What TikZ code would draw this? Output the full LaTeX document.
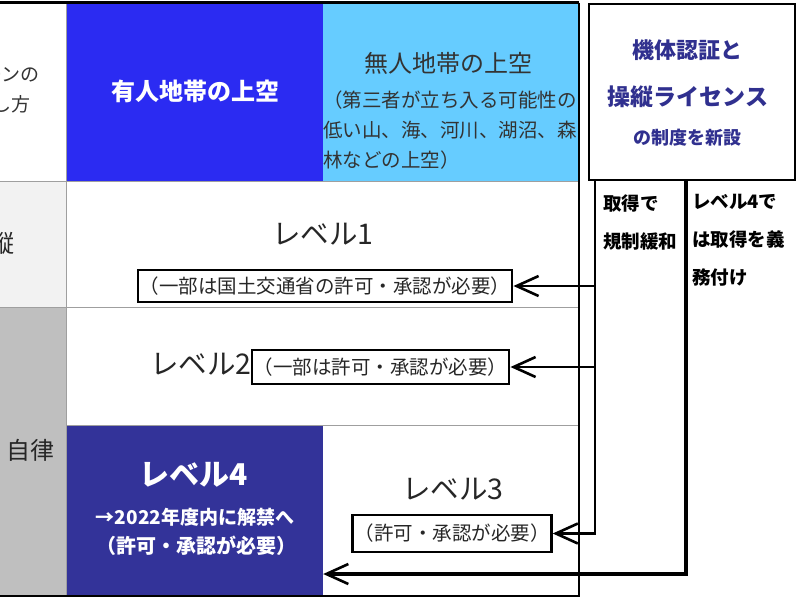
\documentclass[tikz,border=0pt]{standalone}
\usepackage{fontspec}
\setmainfont{Noto Sans CJK JP}
\usetikzlibrary{arrows.meta}
\definecolor{manned}{HTML}{2B2BF2}
\definecolor{unmanned}{HTML}{66CCFF}
\definecolor{navy}{HTML}{333399}
\definecolor{certtext}{HTML}{30308F}
\definecolor{darktext}{HTML}{333333}
\definecolor{lightcell}{HTML}{F2F2F2}
\definecolor{graycell}{HTML}{BFBFBF}
\begin{document}
\begin{tikzpicture}[x=1pt,y=-1pt,
  txt/.style={inner sep=0pt},
  gridline/.style={draw=gray!75, line width=1pt},
  border/.style={draw=black, line width=2.4pt},
  notebox/.style={draw=black, line width=2.4pt, inner xsep=2pt, inner ysep=0pt,
    text=black!85, font=\fontsize{19.5}{22}\selectfont},
  leveltxt/.style={txt, text=black!85, font=\fontsize{28.5}{30}\selectfont},
  sidetxt/.style={txt, anchor=west, align=left, text=black,
    font=\bfseries\fontsize{18.5}{38}\selectfont},
  conn/.style={draw=black, line width=2.2pt,
    -{Straight Barb[length=22pt,width=20pt,line width=2.6pt]}},
  connthick/.style={conn, line width=3.2pt}
]
\useasboundingbox (0,0) rectangle (800,600);
\clip (0,0) rectangle (800,600);
\fill[white] (0,0) rectangle (800,600);

% table cells
\fill[lightcell] (0,181) rectangle (66,307);
\fill[graycell] (0,307) rectangle (66,596);
\fill[manned] (66,3) rectangle (323,181);
\fill[unmanned] (323,3) rectangle (579,181);
\node[fill=navy, inner sep=0pt, minimum width=257pt, minimum height=171pt] (l4) at (194.5,510.5) {};

% grid lines
\draw[gridline] (0,181) -- (579,181);
\draw[gridline] (0,307) -- (579,307);
\draw[gridline] (66,425) -- (579,425);
\draw[gridline] (66,3) -- (66,596);

% outer border
\draw[border, line width=3pt] (0,2.5) -- (579,2.5);
\draw[border] (579,2.5) -- (579,596) -- (0,596);

% header texts
\node[txt, align=center, text=black!80, font=\fontsize{19}{30}\selectfont] (howfly) at (-7.5,90) {ドローンの\\飛ばし方};
\node[txt, text=white, font=\bfseries\fontsize{24}{28}\selectfont] (mannedT) at (195,91) {有人地帯の上空};
\node[txt, text=darktext, font=\fontsize{24}{28}\selectfont] (unmannedT) at (448,63) {無人地帯の上空};
\node[txt, anchor=west, align=left, text=darktext, font=\fontsize{19.5}{30}\selectfont] (unmannedD) at (323,130) {（第三者が立ち入る可能性の\\低い山、海、河川、湖沼、森\\林などの上空）};

% left column texts
\node[txt, text=black!85, font=\fontsize{24}{28}\selectfont] (manual) at (-9,243) {操縦};
\node[txt, text=black!85, font=\fontsize{24}{28}\selectfont] (auto) at (30,450) {自律};

% levels
\node[leveltxt] (lv1) at (323,234) {レベル1};
\node[notebox, minimum width=364pt, minimum height=32pt] (note1) at (325,286) {（一部は国土交通省の許可・承認が必要）};
\node[leveltxt] (lv2) at (201,364) {レベル2};
\node[notebox, minimum width=251pt, minimum height=34pt] (note2) at (380.5,367) {（一部は許可・承認が必要）};
\node[leveltxt] (lv3) at (453,489) {レベル3};
\node[notebox, minimum width=192pt, minimum height=37pt] (note3) at (452,533.5) {（許可・承認が必要）};
\node[txt, text=white, font=\bfseries\fontsize{30}{32}\selectfont] (lv4) at (194,475) {レベル4};
\node[txt, text=white, font=\bfseries\fontsize{19}{22}\selectfont] (lv4a) at (195,517) {→2022年度内に解禁へ};
\node[txt, text=white, font=\bfseries\fontsize{20}{22}\selectfont] (lv4b) at (196,546) {（許可・承認が必要）};

% certification box
\node[draw=black, line width=2.4pt, inner sep=0pt, minimum width=206pt, minimum height=176pt] (cert) at (692,92) {};
\node[txt, text=certtext, font=\bfseries\fontsize{22}{26}\selectfont] (certA) at (687,50) {機体認証と};
\node[txt, text=certtext, font=\bfseries\fontsize{23}{26}\selectfont] (certB) at (688,97) {操縦ライセンス};
\node[txt, text=certtext, font=\bfseries\fontsize{18}{22}\selectfont] (certC) at (687,138) {の制度を新設};

% side texts
\node[sidetxt] (relax) at (603,222.5) {取得で\\規制緩和};
\node[sidetxt] (oblig) at (692,240) {レベル4で\\は取得を義\\務付け};

% connectors
\coordinate (c1top) at (595,180);
\coordinate (c2top) at (686,180);
\coordinate (c2bend) at (686,574);
\draw[conn] (c1top) |- (note3.east);
\draw[conn] (note1.east -| c1top) -- (note1.east);
\draw[conn] (note2.east -| c1top) -- (note2.east);
\draw[connthick] (c2top) -- (c2bend) -- (l4.east |- c2bend);
\end{tikzpicture}
\end{document}
